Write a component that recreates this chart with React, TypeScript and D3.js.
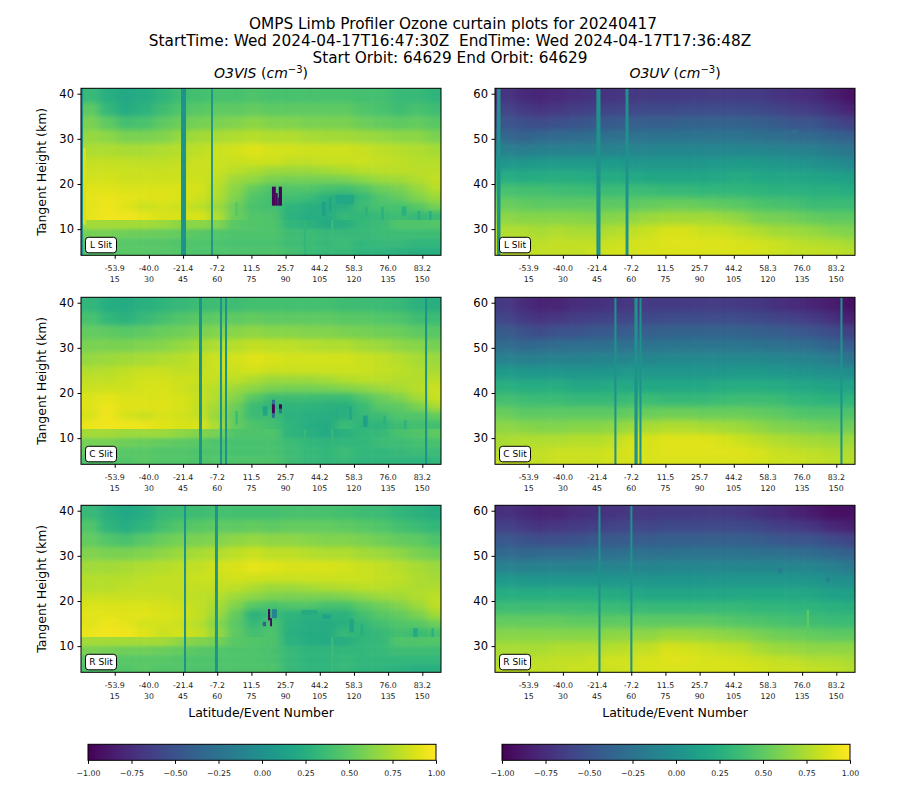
import { useEffect, useRef } from 'react';
import * as d3 from 'd3';

// values are hundredths of the colour scale, top row first, one column per 8 events
const eventEdges = [0, 8, 16, 24, 32, 40, 48, 56, 64, 72, 80, 88, 96, 104, 112, 120, 128, 136, 144, 152, 160];
const visHeights = [41, 38, 35, 32, 29, 26, 24, 22, 20, 18, 16, 14, 12, 10, 8, 6, 4];
const uvHeights = [61, 58, 55, 52, 49, 46, 43, 40, 37, 34, 31, 28, 26, 24];

const visL = [
  [35, 25, 20, 22, 30, 38, 40, 42, 42, 44, 42, 42, 42, 42, 42, 40, 40, 35, 35, 30],
  [50, 33, 22, 28, 38, 45, 48, 50, 50, 52, 50, 50, 50, 50, 50, 45, 42, 38, 42, 38],
  [60, 50, 40, 42, 50, 55, 58, 60, 62, 65, 62, 62, 60, 60, 60, 55, 52, 50, 52, 48],
  [68, 65, 60, 60, 62, 68, 72, 74, 76, 78, 76, 76, 74, 72, 72, 70, 68, 65, 65, 60],
  [75, 75, 74, 74, 76, 78, 80, 84, 86, 90, 86, 86, 85, 85, 85, 83, 80, 78, 76, 73],
  [82, 82, 81, 80, 80, 82, 84, 84, 83, 85, 85, 81, 81, 83, 83, 84, 82, 80, 78, 78],
  [84, 85, 84, 83, 83, 84, 84, 83, 79, 75, 71, 70, 70, 72, 75, 78, 79, 79, 79, 79],
  [86, 86, 85, 85, 85, 85, 85, 80, 71, 67, 60, 58, 58, 58, 60, 65, 70, 72, 76, 82],
  [90, 90, 89, 89, 89, 89, 87, 78, 65, 52, 44, 46, 46, 42, 40, 46, 55, 60, 68, 78],
  [92, 93, 92, 90, 90, 89, 85, 76, 61, 46, 40, 40, 36, 28, 24, 35, 46, 52, 62, 70],
  [91, 95, 90, 84, 86, 84, 80, 70, 55, 42, 40, 30, 26, 24, 26, 38, 42, 42, 48, 58],
  [92, 96, 95, 92, 88, 88, 88, 76, 54, 46, 44, 28, 24, 24, 34, 32, 35, 38, 34, 36],
  [72, 72, 72, 72, 70, 65, 65, 62, 48, 46, 45, 32, 28, 22, 26, 34, 36, 45, 45, 46],
  [58, 58, 56, 55, 54, 52, 48, 46, 44, 44, 44, 38, 36, 34, 34, 34, 36, 38, 38, 38],
  [50, 48, 48, 47, 47, 45, 45, 43, 42, 42, 42, 38, 36, 34, 36, 32, 34, 34, 32, 32],
  [45, 47, 48, 48, 47, 46, 44, 45, 44, 44, 44, 40, 36, 34, 34, 30, 30, 28, 26, 26],
];
const visC = [
  [32, 24, 22, 26, 30, 34, 36, 38, 38, 40, 40, 40, 40, 40, 38, 38, 36, 34, 28, 26],
  [42, 32, 28, 34, 40, 46, 48, 50, 50, 52, 50, 50, 50, 50, 48, 48, 46, 44, 38, 36],
  [52, 50, 48, 50, 54, 56, 60, 62, 64, 66, 64, 64, 62, 62, 60, 58, 56, 54, 50, 48],
  [60, 60, 60, 62, 64, 68, 72, 76, 78, 82, 80, 80, 78, 76, 76, 72, 70, 66, 64, 58],
  [68, 70, 72, 74, 76, 78, 82, 84, 86, 90, 88, 86, 86, 86, 86, 84, 82, 78, 74, 70],
  [76, 78, 81, 83, 83, 81, 82, 84, 84, 86, 83, 83, 84, 84, 84, 84, 82, 80, 76, 74],
  [81, 81, 83, 86, 86, 85, 84, 82, 80, 75, 71, 71, 71, 73, 77, 79, 79, 77, 77, 79],
  [84, 85, 85, 87, 88, 85, 81, 78, 70, 65, 60, 58, 58, 60, 62, 66, 70, 74, 78, 84],
  [89, 91, 89, 89, 89, 87, 83, 76, 63, 48, 38, 38, 38, 36, 36, 46, 55, 62, 72, 84],
  [90, 94, 90, 90, 90, 88, 82, 72, 55, 36, 32, 30, 30, 28, 26, 36, 48, 50, 60, 74],
  [88, 95, 87, 83, 88, 86, 82, 68, 51, 36, 38, 28, 26, 24, 26, 34, 38, 46, 46, 52],
  [93, 96, 95, 93, 90, 88, 88, 74, 52, 44, 40, 30, 24, 22, 36, 30, 30, 38, 40, 40],
  [72, 72, 70, 70, 70, 66, 62, 58, 45, 44, 45, 30, 26, 22, 28, 32, 34, 42, 45, 50],
  [58, 58, 56, 54, 52, 50, 48, 44, 42, 42, 42, 36, 32, 30, 32, 32, 36, 38, 40, 42],
  [52, 50, 48, 48, 46, 46, 44, 44, 42, 42, 42, 38, 34, 32, 36, 32, 32, 34, 36, 36],
  [45, 45, 46, 48, 46, 46, 44, 46, 44, 44, 44, 38, 34, 32, 34, 30, 30, 30, 30, 32],
];
const visR = [
  [35, 26, 20, 24, 34, 36, 38, 40, 40, 40, 40, 42, 42, 42, 40, 38, 36, 32, 28, 24],
  [45, 30, 24, 30, 40, 46, 48, 50, 50, 52, 50, 52, 52, 52, 50, 48, 45, 40, 36, 32],
  [52, 46, 42, 48, 54, 58, 60, 62, 66, 68, 66, 66, 64, 62, 62, 60, 56, 52, 50, 44],
  [62, 60, 60, 62, 66, 70, 74, 76, 80, 84, 80, 80, 78, 76, 76, 72, 70, 66, 60, 56],
  [72, 72, 74, 76, 78, 80, 82, 86, 88, 92, 90, 88, 88, 88, 86, 84, 82, 78, 74, 70],
  [78, 78, 78, 80, 82, 82, 84, 84, 86, 85, 83, 83, 84, 84, 84, 84, 82, 80, 75, 73],
  [78, 78, 80, 82, 82, 82, 82, 82, 80, 75, 71, 71, 73, 75, 77, 79, 79, 77, 75, 75],
  [83, 83, 83, 83, 83, 82, 80, 78, 71, 65, 61, 60, 60, 60, 62, 66, 70, 72, 76, 80],
  [89, 89, 89, 89, 87, 85, 81, 74, 61, 48, 42, 46, 46, 42, 42, 50, 56, 62, 70, 80],
  [91, 91, 90, 91, 89, 87, 82, 70, 53, 28, 36, 30, 26, 28, 28, 40, 48, 52, 60, 72],
  [90, 94, 92, 86, 86, 84, 78, 64, 49, 34, 42, 28, 24, 22, 26, 34, 40, 46, 48, 56],
  [94, 96, 95, 90, 84, 86, 82, 68, 50, 40, 44, 26, 22, 22, 34, 30, 34, 40, 36, 42],
  [72, 72, 72, 72, 72, 66, 62, 58, 48, 46, 44, 28, 24, 22, 26, 32, 34, 45, 45, 46],
  [60, 58, 56, 56, 54, 52, 48, 46, 44, 44, 42, 34, 30, 30, 32, 32, 34, 38, 38, 38],
  [48, 48, 48, 48, 48, 46, 44, 44, 44, 44, 42, 34, 30, 30, 34, 32, 32, 32, 32, 32],
  [44, 46, 46, 48, 46, 46, 44, 44, 44, 44, 44, 34, 30, 30, 34, 30, 30, 28, 26, 26],
];
const uvL = [
  [-70, -76, -79, -77, -73, -71, -70, -68, -66, -66, -65, -65, -65, -65, -65, -70, -74, -76, -83, -90],
  [-60, -66, -70, -68, -64, -62, -60, -58, -56, -56, -54, -54, -54, -54, -56, -60, -64, -66, -72, -80],
  [-48, -52, -54, -52, -48, -46, -44, -42, -40, -40, -38, -38, -38, -38, -40, -44, -48, -48, -56, -62],
  [-34, -38, -34, -32, -30, -28, -26, -26, -24, -24, -24, -24, -24, -24, -26, -28, -32, -32, -36, -40],
  [-14, -16, -14, -14, -12, -12, -10, -10, -8, -8, -8, -8, -8, -8, -8, -10, -12, -14, -18, -22],
  [6, 6, 8, 8, 8, 8, 10, 6, 6, 6, 6, 6, 8, 10, 8, 6, 4, 0, -2, -6],
  [24, 22, 24, 24, 24, 22, 22, 20, 18, 18, 18, 18, 20, 22, 20, 18, 18, 16, 14, 12],
  [42, 40, 40, 38, 38, 36, 36, 36, 36, 34, 34, 32, 32, 32, 30, 28, 28, 26, 26, 24],
  [54, 52, 50, 50, 50, 50, 50, 50, 52, 54, 54, 52, 50, 48, 44, 42, 40, 36, 36, 36],
  [66, 64, 64, 64, 64, 62, 64, 66, 70, 72, 72, 72, 70, 66, 60, 58, 56, 52, 50, 50],
  [76, 76, 74, 76, 74, 74, 76, 80, 84, 88, 88, 84, 84, 80, 76, 72, 70, 68, 64, 62],
  [78, 78, 80, 82, 82, 82, 84, 86, 88, 90, 90, 90, 90, 88, 86, 84, 80, 78, 76, 74],
  [80, 80, 82, 82, 82, 84, 86, 86, 88, 88, 88, 88, 88, 88, 86, 84, 82, 82, 80, 78],
];
const uvC = [
  [-66, -75, -81, -80, -75, -72, -70, -68, -66, -66, -65, -65, -65, -66, -68, -72, -76, -80, -84, -92],
  [-58, -66, -70, -68, -64, -62, -60, -58, -56, -54, -54, -54, -54, -54, -56, -60, -62, -66, -72, -82],
  [-44, -50, -54, -50, -48, -46, -44, -42, -40, -38, -38, -38, -38, -38, -40, -42, -46, -48, -54, -62],
  [-30, -34, -32, -30, -28, -28, -26, -26, -24, -22, -22, -22, -22, -22, -24, -26, -28, -30, -36, -42],
  [-12, -14, -14, -12, -12, -10, -10, -8, -8, -6, -6, -6, -6, -6, -6, -8, -10, -12, -16, -22],
  [8, 6, 6, 6, 4, 4, 6, 8, 6, 6, 6, 6, 6, 8, 8, 6, 4, 2, 0, -2],
  [26, 24, 24, 24, 20, 20, 22, 20, 20, 20, 20, 20, 22, 24, 24, 22, 20, 18, 16, 16],
  [40, 38, 36, 36, 34, 34, 34, 36, 36, 34, 34, 34, 36, 38, 38, 36, 32, 30, 28, 30],
  [54, 50, 50, 50, 50, 50, 50, 52, 54, 56, 56, 54, 54, 54, 52, 50, 46, 44, 44, 44],
  [66, 64, 62, 62, 64, 64, 66, 70, 74, 76, 76, 74, 72, 70, 66, 62, 60, 58, 56, 56],
  [74, 76, 76, 76, 78, 78, 80, 86, 88, 90, 90, 90, 88, 84, 80, 76, 74, 72, 70, 70],
  [78, 80, 82, 84, 84, 84, 86, 88, 88, 90, 90, 90, 90, 90, 88, 84, 82, 80, 78, 76],
  [82, 82, 82, 84, 84, 84, 86, 86, 88, 88, 88, 88, 88, 88, 86, 84, 84, 82, 80, 78],
];
const uvR = [
  [-72, -76, -80, -80, -75, -72, -70, -68, -68, -66, -66, -66, -66, -68, -72, -76, -82, -86, -92, -92],
  [-62, -66, -70, -68, -66, -64, -60, -58, -58, -56, -56, -56, -56, -56, -58, -64, -66, -70, -78, -82],
  [-46, -50, -52, -52, -50, -46, -44, -44, -42, -40, -40, -40, -40, -40, -42, -46, -48, -48, -54, -60],
  [-32, -34, -32, -32, -30, -28, -28, -26, -26, -26, -24, -24, -24, -24, -26, -26, -28, -30, -34, -38],
  [-12, -14, -12, -12, -12, -10, -10, -10, -10, -8, -8, -8, -8, -8, -8, -8, -8, -10, -14, -18],
  [8, 6, 6, 6, 6, 6, 6, 6, 4, 4, 4, 4, 6, 6, 6, 6, 6, 4, 0, -2],
  [24, 24, 24, 24, 24, 24, 22, 20, 18, 18, 18, 18, 18, 20, 20, 20, 20, 18, 14, 12],
  [38, 38, 38, 38, 38, 36, 36, 34, 34, 34, 34, 34, 34, 34, 32, 32, 30, 30, 28, 26],
  [52, 52, 52, 52, 50, 50, 50, 50, 50, 50, 50, 50, 48, 46, 44, 42, 40, 38, 36, 36],
  [64, 64, 64, 64, 64, 64, 66, 66, 66, 70, 70, 68, 66, 64, 60, 56, 54, 52, 50, 50],
  [74, 74, 74, 76, 76, 76, 78, 80, 82, 88, 86, 84, 82, 80, 74, 70, 68, 66, 66, 66],
  [76, 78, 80, 82, 82, 84, 86, 86, 88, 90, 90, 88, 88, 86, 84, 82, 80, 76, 76, 74],
  [80, 82, 82, 82, 84, 84, 84, 86, 88, 88, 88, 88, 88, 88, 86, 84, 84, 82, 80, 78],
];

// events where the retrieval drops out: [first event, last event]
const stripesVisL = [[0.2, 1.1], [44.1, 46.3], [57.3, 58.1]];
const stripesVisC = [[52, 53.3], [61.2, 62.1], [63.4, 64.3], [151.2, 152.1]];
const stripesVisR = [[45.4, 46.3], [59, 60.3]];
const stripesUvL = [[1.1, 2.6], [44.7, 46.5], [57.5, 58.8]];
const stripesUvC = [[52.6, 53.5], [61.4, 62.8], [63.6, 64.5], [151.8, 152.7]];
const stripesUvR = [[45.6, 46.5], [59.6, 60.5]];
const stripeValue = 0.02;

// isolated cells: [first event, last event, low km, high km, value]
const spotsVisL = [
  [1.1, 2.4, 11, 28, 0.88],
  [68, 69, 13, 16, 0.46], [75, 76, 13, 15, 0.44],
  [106, 107.5, 13, 16, 0.14], [109, 110, 14, 17, 0.16], [112, 120, 15.5, 17.5, 0.2],
  [125, 126, 13, 15, 0.28], [132, 133, 12, 15, 0.28], [141, 143, 13, 15, 0.27], [148, 149, 12, 14, 0.26], [153, 154, 12, 14, 0.26],
  [98, 99, 4.2, 12, 0.32], [110, 111, 4.2, 12, 0.36],
  [84, 85.7, 15.2, 19.4, -0.97], [85.7, 86.5, 15.2, 18, -0.97], [86.5, 87, 15.2, 17, -0.97], [87, 88.4, 15.2, 19.4, -0.97],
];
const spotsVisC = [
  [112, 113, 14, 17, 0.24], [118, 119, 14, 17, 0.18], [124, 126, 12.5, 15, 0.14],
  [133, 134, 13, 15, 0.27], [142, 143, 12, 14, 0.28],
  [80, 82, 15, 17, 0.16], [68, 69, 13, 16, 0.36],
  [98, 99, 4.2, 12, 0.34], [110, 111, 4.2, 12, 0.34], [82, 83, 4.2, 12, 0.44],
  [84, 85.3, 17.5, 18.5, -0.25], [84, 85.3, 14.5, 15.5, -0.25], [87.1, 88.4, 15.5, 16.5, -0.2],
  [84, 85.3, 15.5, 17.5, -0.97], [87.1, 88.4, 16.5, 17.5, -0.97],
];
const spotsVisR = [
  [118, 120, 13, 16, 0.18], [123, 124, 12.5, 15, 0.24], [146, 148, 12, 14, 0.22], [154, 155, 12, 14, 0.28],
  [97, 104, 17, 18, 0.22], [106, 110, 16, 17, 0.16],
  [82, 83, 4.2, 12, 0.44], [110, 111, 4.2, 12, 0.36],
  [80, 81.4, 14.4, 15.4, -0.4], [84, 86.2, 16.2, 18.2, -0.1],
  [82.3, 83.2, 15.7, 18.2, -0.97], [83.2, 84, 14.4, 16.2, -0.97],
];
const spotsUvL = [[130, 133, 51.2, 52, -0.28]];
const spotsUvC: number[][] = [];
const spotsUvR = [[124.6, 126, 46.2, 47.3, -0.2], [145.7, 147, 44.2, 45.3, -0.15], [137, 138, 34, 38, 0.5]];

const eventTicks = [15, 30, 45, 60, 75, 90, 105, 120, 135, 150];
const latitudeLabels = ['-53.9', '-40.0', '-21.4', '-7.2', '11.5', '25.7', '44.2', '58.3', '76.0', '83.2'];
const visHeightTicks = [10, 20, 30, 40];
const uvHeightTicks = [30, 40, 50, 60];
const colorbarTicks = [-1, -0.75, -0.5, -0.25, 0, 0.25, 0.5, 0.75, 1];
const titleLines = [
  'OMPS Limb Profiler Ozone curtain plots for 20240417',
  'StartTime: Wed 2024-04-17T16:47:30Z  EndTime: Wed 2024-04-17T17:36:48Z',
  'Start Orbit: 64629 End Orbit: 64629',
];

const font = '"DejaVu Sans", sans-serif';
const color = d3.scaleSequential(d3.interpolateViridis).domain([-1, 1]);

const panels = [
  { slit: 'L Slit', col: 0, row: 0, cells: visL, heights: visHeights, stripes: stripesVisL, spots: spotsVisL },
  { slit: 'L Slit', col: 1, row: 0, cells: uvL, heights: uvHeights, stripes: stripesUvL, spots: spotsUvL },
  { slit: 'C Slit', col: 0, row: 1, cells: visC, heights: visHeights, stripes: stripesVisC, spots: spotsVisC },
  { slit: 'C Slit', col: 1, row: 1, cells: uvC, heights: uvHeights, stripes: stripesUvC, spots: spotsUvC },
  { slit: 'R Slit', col: 0, row: 2, cells: visR, heights: visHeights, stripes: stripesVisR, spots: spotsVisR },
  { slit: 'R Slit', col: 1, row: 2, cells: uvR, heights: uvHeights, stripes: stripesUvR, spots: spotsUvR },
];

export default function App() {
  const ref = useRef<SVGSVGElement | null>(null);

  useEffect(() => {
    const svg = d3.select(ref.current);
    svg.selectAll('*').remove();

    const lefts = [81, 495];
    const tops = [88.3, 297.3, 505.3];
    const pw = 360;
    const ph = 167;
    const defs = svg.append('defs');

    [['softHigh', '5 2.6'], ['softLow', '5 1.5'], ['softUv', '5 3.2']].forEach(([id, dev]) => {
      defs.append('filter')
        .attr('id', id)
        .attr('filterUnits', 'userSpaceOnUse')
        .attr('x', 0).attr('y', 0).attr('width', 900).attr('height', 800)
        .attr('color-interpolation-filters', 'sRGB')
        .append('feGaussianBlur')
        .attr('stdDeviation', dev);
    });

    const ramp = defs.append('linearGradient').attr('id', 'ramp');
    ramp.selectAll('stop')
      .data(d3.range(0, 65))
      .enter()
      .append('stop')
      .attr('offset', d => `${(d / 64) * 100}%`)
      .attr('stop-color', d => d3.interpolateViridis(d / 64));

    svg.selectAll('.title')
      .data(titleLines)
      .enter()
      .append('text')
      .attr('class', 'title')
      .text(d => d)
      .attr('x', (_, i) => (i === 0 ? 453 : 450))
      .attr('y', (_, i) => 29 + i * 17)
      .attr('text-anchor', 'middle')
      .attr('font-size', '15.3px')
      .attr('font-family', font)
      .style('white-space', 'pre');

    panels.forEach((p, idx) => {
      const left = lefts[p.col];
      const top = tops[p.row];
      const lowKm = p.col === 0 ? 4.2 : 24.2;
      const x = d3.scaleLinear().domain([0.2, 158.2]).range([0, pw]);
      const y = d3.scaleLinear().domain([lowKm, lowKm + 37]).range([ph, 0]);
      const g = svg.append('g').attr('transform', `translate(${left},${top})`);

      defs.append('clipPath').attr('id', `clip${idx}`)
        .append('rect').attr('width', pw).attr('height', ph);

      const clipped = g.append('g').attr('clip-path', `url(#clip${idx})`);

      // the VIS field has a hard step at 12 km, so above and below are softened apart
      const split = p.col === 0 ? p.heights.indexOf(12) : -1;
      const parts = split < 0
        ? [{ from: 0, to: p.cells.length, filter: 'softUv', y0: 0, y1: ph }]
        : [
            { from: 0, to: split, filter: 'softHigh', y0: 0, y1: y(12) },
            { from: split, to: p.cells.length, filter: 'softLow', y0: y(12), y1: ph },
          ];

      parts.forEach((part, pi) => {
        defs.append('clipPath').attr('id', `part${idx}-${pi}`)
          .append('rect').attr('y', part.y0).attr('width', pw).attr('height', part.y1 - part.y0);
        const field = clipped.append('g')
          .attr('clip-path', `url(#part${idx}-${pi})`)
          .append('g')
          .attr('filter', `url(#${part.filter})`);

        // outer cells run past the frame so the softening doesn't fade at the edges
        const pad = 30;
        p.cells.slice(part.from, part.to).forEach((row, k) => {
          const r = part.from + k;
          const y0 = r === part.from ? y(p.heights[r]) - pad : y(p.heights[r]);
          const y1 = r === part.to - 1 ? y(p.heights[r + 1]) + pad : y(p.heights[r + 1]) + 0.4;
          field.selectAll(`.cell${r}`)
            .data(row)
            .enter()
            .append('rect')
            .attr('class', `cell${r}`)
            .attr('x', (_, c) => (c === 0 ? -pad : x(eventEdges[c])))
            .attr('y', y0)
            .attr('width', (_, c) => (c === 0 ? x(eventEdges[1]) + pad : x(eventEdges[c + 1]) - x(eventEdges[c]) + 0.4) + (c === row.length - 1 ? pad : 0))
            .attr('height', y1 - y0)
            .attr('fill', d => color(d / 100));
        });
      });

      clipped.selectAll('.stripe')
        .data(p.stripes)
        .enter()
        .append('rect')
        .attr('class', 'stripe')
        .attr('x', d => x(d[0]))
        .attr('y', 0)
        .attr('width', d => x(d[1]) - x(d[0]))
        .attr('height', ph)
        .attr('fill', color(stripeValue));

      clipped.selectAll('.spot')
        .data(p.spots)
        .enter()
        .append('rect')
        .attr('class', 'spot')
        .attr('x', d => x(d[0]))
        .attr('y', d => y(d[3]))
        .attr('width', d => x(d[1]) - x(d[0]))
        .attr('height', d => y(d[2]) - y(d[3]))
        .attr('fill', d => color(d[4]));

      g.append('rect')
        .attr('width', pw).attr('height', ph)
        .attr('fill', 'none').attr('stroke', '#000').attr('stroke-width', 1);

      const yAxis = g.append('g').call(
        d3.axisLeft(y).tickValues(p.col === 0 ? visHeightTicks : uvHeightTicks).tickSize(3.5).tickPadding(3.5),
      );
      yAxis.select('.domain').remove();
      yAxis.selectAll('text').attr('font-size', '11.5px').attr('font-family', font).attr('fill', '#000');

      const xAxis = g.append('g').attr('transform', `translate(0,${ph})`).call(
        d3.axisBottom(x).tickValues(eventTicks).tickSize(3.5).tickFormat(() => ''),
      );
      xAxis.select('.domain').remove();

      const xLabels = g.selectAll('.event')
        .data(eventTicks)
        .enter()
        .append('text')
        .attr('class', 'event')
        .attr('text-anchor', 'middle')
        .attr('font-size', '7.8px')
        .attr('font-family', font)
        .attr('fill', '#222');
      xLabels.append('tspan').attr('x', d => x(d)).attr('y', ph + 16).text((_, i) => latitudeLabels[i]);
      xLabels.append('tspan').attr('x', d => x(d)).attr('y', ph + 26.5).text(d => d);

      // slit tag
      g.append('rect')
        .attr('x', 4.5).attr('y', ph - 18).attr('width', 31).attr('height', 15.5)
        .attr('rx', 3).attr('fill', '#fff').attr('stroke', '#000').attr('stroke-width', 1);
      g.append('text')
        .text(p.slit)
        .attr('x', 20).attr('y', ph - 7)
        .attr('text-anchor', 'middle')
        .attr('font-size', '9px')
        .attr('font-family', font);

      if (p.col === 0) {
        g.append('text')
          .text('Tangent Height (km)')
          .attr('transform', `translate(-35,${ph / 2}) rotate(-90)`)
          .attr('text-anchor', 'middle')
          .attr('font-size', '12.5px')
          .attr('font-family', font);
      }

      if (p.row === 2) {
        g.append('text')
          .text('Latitude/Event Number')
          .attr('x', pw / 2).attr('y', ph + 45)
          .attr('text-anchor', 'middle')
          .attr('font-size', '12.5px')
          .attr('font-family', font);
      }

      if (p.row === 0) {
        const head = g.append('text')
          .attr('x', pw / 2).attr('y', -10)
          .attr('text-anchor', 'middle')
          .attr('font-size', '14px')
          .attr('font-family', font);
        head.append('tspan').attr('font-style', 'italic').text(p.col === 0 ? 'O3VIS ' : 'O3UV ');
        head.append('tspan').text('(');
        head.append('tspan').attr('font-style', 'italic').text('cm');
        head.append('tspan').attr('font-size', '10px').attr('dy', -5).text('\u22123');
        head.append('tspan').attr('dy', 5).text(')');
      }
    });

    // colour bars
    [88, 502].forEach(left => {
      const cw = 348;
      const ch = 16;
      const cx = d3.scaleLinear().domain([-1, 1]).range([0, cw]);
      const g = svg.append('g').attr('transform', `translate(${left},744.3)`);
      g.append('rect')
        .attr('width', cw).attr('height', ch)
        .attr('fill', 'url(#ramp)')
        .attr('stroke', '#000').attr('stroke-width', 1);
      const axis = g.append('g').attr('transform', `translate(0,${ch})`).call(
        d3.axisBottom(cx).tickValues(colorbarTicks).tickSize(3.5).tickPadding(6.5)
          .tickFormat(d => d3.format('.2f')(d as number).replace('-', '\u2212')),
      );
      axis.select('.domain').remove();
      axis.selectAll('text').attr('font-size', '7.8px').attr('font-family', font).attr('fill', '#222');
    });
  }, []);

  return <svg ref={ref} width={900} height={800} style={{ position: 'absolute', left: 0, top: 0, background: '#fff' }} />;
}
